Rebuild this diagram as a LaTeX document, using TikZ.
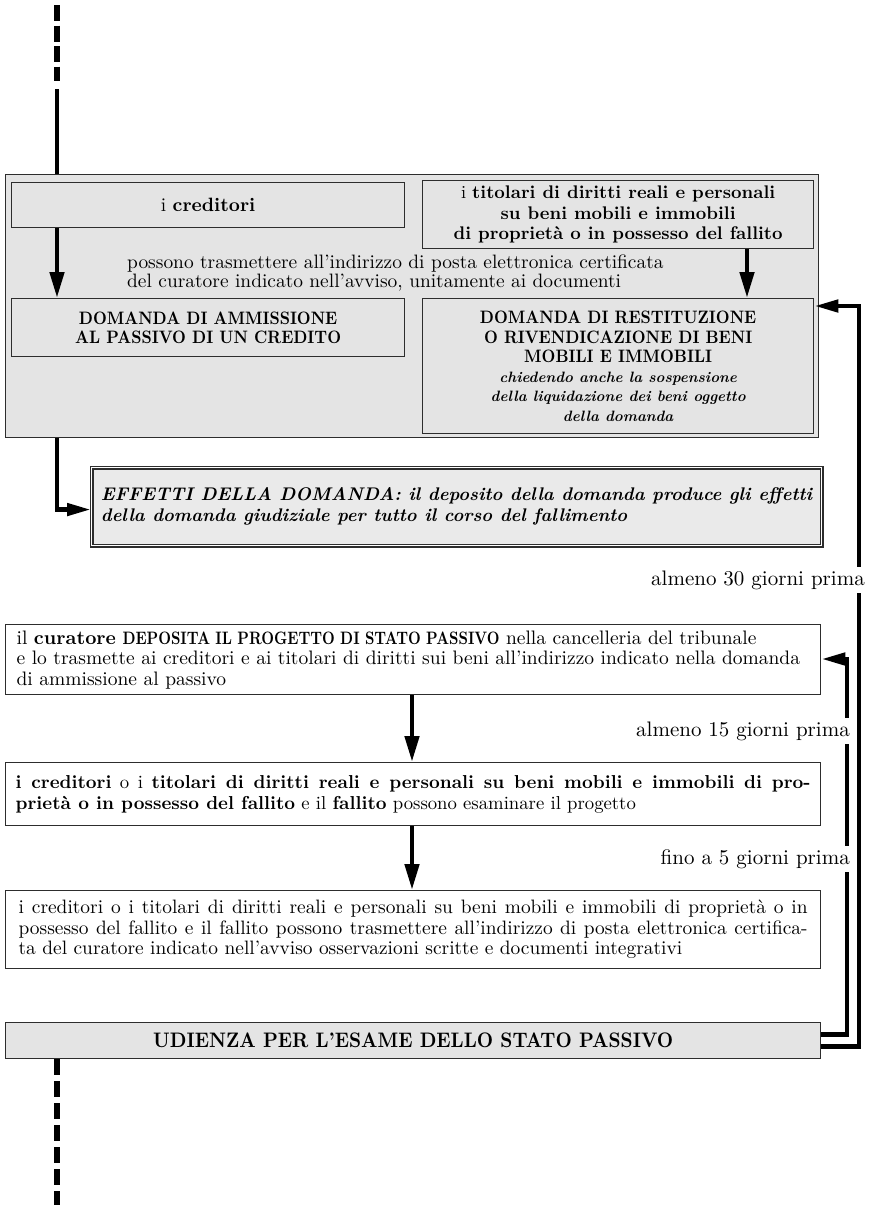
\documentclass[tikz,border=0pt]{standalone}
\usepackage{fontspec}
\setmainfont{lmroman10-regular.otf}[BoldFont=lmroman10-bold.otf, ItalicFont=lmroman10-italic.otf, BoldItalicFont=lmroman10-bolditalic.otf]
\usetikzlibrary{arrows.meta}
\definecolor{boxgray}{RGB}{228,228,228}
\definecolor{effgray}{RGB}{234,234,234}
\definecolor{edgec}{RGB}{45,45,45}
\newcommand{\fsBody}{\fontsize{19.3}{20.5}\selectfont}
\newcommand{\fsCaps}{\fontsize{18}{19.5}\selectfont\bfseries}
\newcommand{\fsItal}{\fontsize{15}{21}\selectfont\itshape}
\newcommand{\capsq}[1]{\scalebox{0.89}[1]{#1}}
\newcommand{\capsin}[1]{{\fontsize{18}{20.5}\selectfont\scalebox{0.82}[1]{#1}}}
\begin{document}
\begin{tikzpicture}[x=1pt,y=-1pt,
  gbox/.style={draw=edgec, line width=1.3pt, fill=boxgray, inner sep=0pt, anchor=north west},
  wbox/.style={draw=edgec, line width=1.3pt, fill=white, inner sep=0pt, anchor=north west},
  effbox/.style={draw=edgec, line width=1.1pt, double=white, double distance=1.8pt, fill=effgray, inner sep=0pt, anchor=north west},
  arr/.style={line width=4.6pt, line join=miter, -{Triangle[length=26pt,width=14pt]}},
  harr/.style={line width=4.6pt, line join=miter, -{Triangle[length=24pt,width=12pt]}},
  thk/.style={line width=4.8pt},
  dsh/.style={line width=5.2pt, dash pattern=on 16pt off 4.5pt},
  lab/.style={fill=white, inner xsep=2pt, inner ysep=3.5pt, anchor=east, font=\fontsize{21}{22}\selectfont}
]
\useasboundingbox (0,0) rectangle (870,1205);

% ---- top group ----
\node[gbox, minimum width=813, minimum height=263] (outer) at (5,174) {};
\node[gbox, minimum width=393, minimum height=45, font=\fsBody] (cred) at (11,182) {i \textbf{creditori}};
\node[gbox, minimum width=391, minimum height=68, align=center, font=\fontsize{18.3}{20.5}\selectfont] (tit) at (422,180)
  {i \textbf{titolari di diritti reali e personali}\\\textbf{su beni mobili e immobili}\\\textbf{di proprietà o in possesso del fallito}};
\node[gbox, minimum width=393, minimum height=58, align=center, font=\fsCaps] (amm) at (11,298)
  {\capsq{DOMANDA DI AMMISSIONE}\\\capsq{AL PASSIVO DI UN CREDITO}};
\node[gbox, minimum width=391, minimum height=135, align=center, font=\fsCaps] (rest) at (422,298)
  {\capsq{DOMANDA DI RESTITUZIONE}\\\capsq{O RIVENDICAZIONE DI BENI}\\\capsq{MOBILI E IMMOBILI}\\
   \fsItal chiedendo anche la sospensione\\\fsItal della liquidazione dei beni oggetto\\\fsItal della domanda};
\node[anchor=west, inner sep=0pt, align=left, font=\fontsize{19.4}{16.5}\selectfont] (poss) at (127,273)
  {possono trasmettere all’indirizzo di posta elettronica certificata\\del curatore indicato nell’avviso, unitamente ai documenti};

\node[effbox, minimum width=730, minimum height=78, align=left, font=\fontsize{18.3}{20.5}\selectfont\bfseries\itshape] (eff) at (91,467)
  {EFFETTI DELLA DOMANDA: il deposito della domanda produce gli effetti\\della domanda giudiziale per tutto il corso del fallimento};

% ---- lower chain ----
\node[wbox, minimum width=815, minimum height=70, text width=793, align=left, font=\fontsize{19.5}{20.5}\selectfont] (cur) at (5,624)
  {il \textbf{curatore \capsin{DEPOSITA IL PROGETTO DI STATO PASSIVO}} nella cancelleria del tribunale\\
   e lo trasmette ai creditori e ai titolari di diritti sui beni all’indirizzo indicato nella domanda\\
   di ammissione al passivo};
\node[wbox, minimum width=815, minimum height=63, text width=795, align=justify, font=\fontsize{18.7}{21}\selectfont] (box2) at (5,762)
  {\tolerance=9999 \textbf{i creditori} o i \textbf{titolari di diritti reali e personali su beni mobili e immobili di pro-}\linebreak
   \textbf{prietà o in possesso del fallito} e il \textbf{fallito} possono esaminare il progetto};
\node[wbox, minimum width=815, minimum height=78, text width=789, align=justify, font=\fontsize{19.4}{20.5}\selectfont] (box3) at (5,890)
  {\tolerance=9999 i creditori o i titolari di diritti reali e personali su beni mobili e immobili di proprietà o in\linebreak
   possesso del fallito e il fallito possono trasmettere all’indirizzo di posta elettronica certifica-\linebreak
   ta del curatore indicato nell’avviso osservazioni scritte e documenti integrativi};
\node[gbox, minimum width=815, minimum height=36, font=\fontsize{21}{22}\selectfont\bfseries] (udi) at (5,1022)
  {\scalebox{0.9}[1]{UDIENZA PER L’ESAME DELLO STATO PASSIVO}};

% ---- connectors ----
\coordinate (d0) at (57,5);
\coordinate (d1) at (57,81);
\coordinate (d2) at (57,89);
\coordinate (rx) at (747,0);
\coordinate (cx) at (412,0);
\coordinate (ro) at (859,306);
\coordinate (ri) at (847,659);
\coordinate (b1) at (57,1205);

\draw[dsh] (d0) -- (d1);
\draw[thk] (d2) -- (d2 |- outer.north);
\draw[arr] (cred.south -| d0) -- (amm.north -| d0);
\draw[arr] (tit.south -| rx) -- (rest.north -| rx);
\draw[harr] (outer.south -| d0) |- ([yshift=-3pt]eff.west);
\draw[arr] (cur.south -| cx) -- (box2.north -| cx);
\draw[arr] (box2.south -| cx) -- (box3.north -| cx);
\draw[harr] ([yshift=-6pt]udi.east) -| (ro) -- (rest.east |- ro);
\draw[harr] ([yshift=6pt]udi.east) -| (ri) -- (cur.east |- ri);
\draw[dsh, dash pattern=on 16pt off 6pt] (udi.south -| d0) -- (b1);

% ---- side labels ----
\node[lab] (l30) at (867,580) {almeno 30 giorni prima};
\node[lab] (l15) at (852,731) {almeno 15 giorni prima};
\node[lab] (l5) at (852,859) {fino a 5 giorni prima};
\end{tikzpicture}
\end{document}
